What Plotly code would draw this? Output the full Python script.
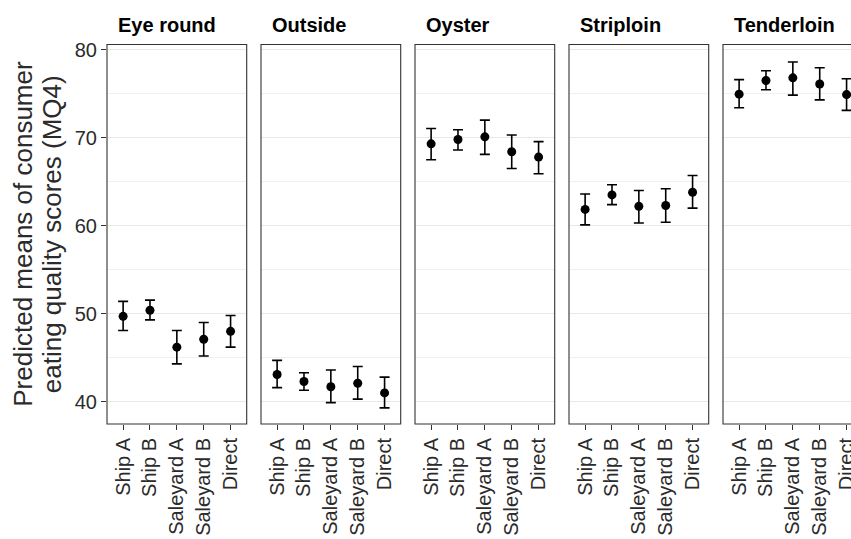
import plotly.graph_objects as go

# ---- data ----
categories = ["Ship A", "Ship B", "Saleyard A", "Saleyard B", "Direct"]
cuts = ["Eye round", "Outside", "Oyster", "Striploin", "Tenderloin"]

eye_round_mean = [49.7, 50.4, 46.2, 47.1, 48.0]
eye_round_low = [48.1, 49.3, 44.3, 45.2, 46.2]
eye_round_high = [51.4, 51.55, 48.1, 49.0, 49.8]

outside_mean = [43.1, 42.3, 41.7, 42.1, 41.0]
outside_low = [41.6, 41.3, 39.9, 40.3, 39.3]
outside_high = [44.7, 43.3, 43.6, 44.0, 42.8]

oyster_mean = [69.3, 69.8, 70.1, 68.4, 67.8]
oyster_low = [67.5, 68.6, 68.1, 66.5, 65.9]
oyster_high = [71.05, 70.9, 72.0, 70.3, 69.55]

striploin_mean = [61.85, 63.5, 62.2, 62.3, 63.8]
striploin_low = [60.1, 62.4, 60.3, 60.4, 62.0]
striploin_high = [63.6, 64.66, 64.0, 64.2, 65.7]

tenderloin_mean = [74.95, 76.5, 76.8, 76.1, 74.9]
tenderloin_low = [73.4, 75.45, 74.84, 74.3, 73.1]
tenderloin_high = [76.6, 77.6, 78.6, 77.95, 76.7]

y_ticks = [40, 50, 60, 70, 80]
y_minor_ticks = [45, 55, 65, 75]
y_title_lines = ["Predicted means of consumer", "eating quality scores (MQ4)"]

series = [
    (eye_round_mean, eye_round_low, eye_round_high),
    (outside_mean, outside_low, outside_high),
    (oyster_mean, oyster_low, oyster_high),
    (striploin_mean, striploin_low, striploin_high),
    (tenderloin_mean, tenderloin_low, tenderloin_high),
]

# ---- layout geometry (pixels) ----
W, H = 851, 539
FONT = "Liberation Sans, Arial, Helvetica, sans-serif"
panel_left = [107, 261, 415, 569, 723]
panel_w = 139.7
top_px, bot_px = 44.5, 424.0
unit = panel_w / 5.2
y_range = [37.47, 80.59]

def px_x(p):
    return p / W

def px_y(p):
    return (H - p) / H

fig = go.Figure()
xs = list(range(1, len(categories) + 1))

layout = dict(
    width=W, height=H,
    margin=dict(l=0, r=0, t=0, b=0, pad=0),
    paper_bgcolor="white", plot_bgcolor="white",
    font=dict(family=FONT, color="#2b2b2b"),
    showlegend=False,
)

shapes = []
annotations = []
for i, (m, lo, hi) in enumerate(series):
    n = "" if i == 0 else str(i + 1)
    fig.add_trace(go.Scatter(
        x=xs, y=m, mode="markers",
        marker=dict(color="black", size=9),
        error_y=dict(
            type="data", symmetric=False,
            array=[h - v for h, v in zip(hi, m)],
            arrayminus=[v - l for v, l in zip(m, lo)],
            color="black", thickness=1.6, width=5,
        ),
        xaxis="x" + n, yaxis="y" + n,
        showlegend=False, hoverinfo="skip",
    ))
    left = panel_left[i]
    right = left + panel_w
    if right > W:
        dom_r = 1.0
        xr = [0.4, 0.4 + (W - left) / unit]
    else:
        dom_r = px_x(right)
        xr = [0.4, 5.6]
    layout["xaxis" + n] = dict(
        domain=[px_x(left), dom_r], anchor="y" + n,
        range=xr, autorange=False, automargin=False,
        tickmode="array", tickvals=xs, ticktext=categories,
        tickangle=-90, ticks="outside", ticklen=5, tickwidth=1,
        ticklabeloverflow="allow",
        tickcolor="#333333", tickfont=dict(size=20, family=FONT, color="#2b2b2b"),
        showgrid=False, zeroline=False, showline=False, fixedrange=True,
    )
    layout["yaxis" + n] = dict(
        domain=[px_y(bot_px), px_y(top_px)], anchor="x" + n,
        range=y_range, autorange=False, automargin=False,
        tickmode="array", tickvals=y_ticks,
        showticklabels=(i == 0),
        ticks="outside" if i == 0 else "", ticklen=5, tickwidth=1,
        tickcolor="#333333", tickfont=dict(size=20, family=FONT, color="#2b2b2b"),
        showgrid=True, gridcolor="#E8E8E8", gridwidth=1,
        minor=dict(tickvals=y_minor_ticks, showgrid=True,
                   gridcolor="#F0F0F0", gridwidth=1, ticks=""),
        zeroline=False, showline=False, fixedrange=True,
    )
    shapes.append(dict(
        type="rect", xref="paper", yref="paper",
        x0=px_x(left), x1=px_x(right), y0=px_y(bot_px), y1=px_y(top_px),
        line=dict(color="#333333", width=1.1), layer="above",
    ))
    annotations.append(dict(
        text="<b>" + cuts[i] + "</b>", xref="paper", yref="paper",
        x=px_x(left + 9), y=px_y(25), xanchor="left", yanchor="middle",
        showarrow=False, font=dict(size=20, family=FONT, color="black"),
    ))

centre_y = px_y((top_px + bot_px) / 2)
for k, (line, cx) in enumerate(zip(y_title_lines, [23.5, 52.0])):
    annotations.append(dict(
        text=line, xref="paper", yref="paper",
        x=px_x(cx), y=centre_y, xanchor="center", yanchor="middle",
        textangle=-90, showarrow=False,
        font=dict(size=26, family=FONT, color="#2b2b2b"),
    ))

layout["shapes"] = shapes
layout["annotations"] = annotations
fig.update_layout(**layout)
fig.write_html(
    "out.html",
    config={"displayModeBar": False},
    post_script="document.body.style.margin='0';document.body.style.padding='0';"
                "document.documentElement.style.overflow='hidden';",
)
